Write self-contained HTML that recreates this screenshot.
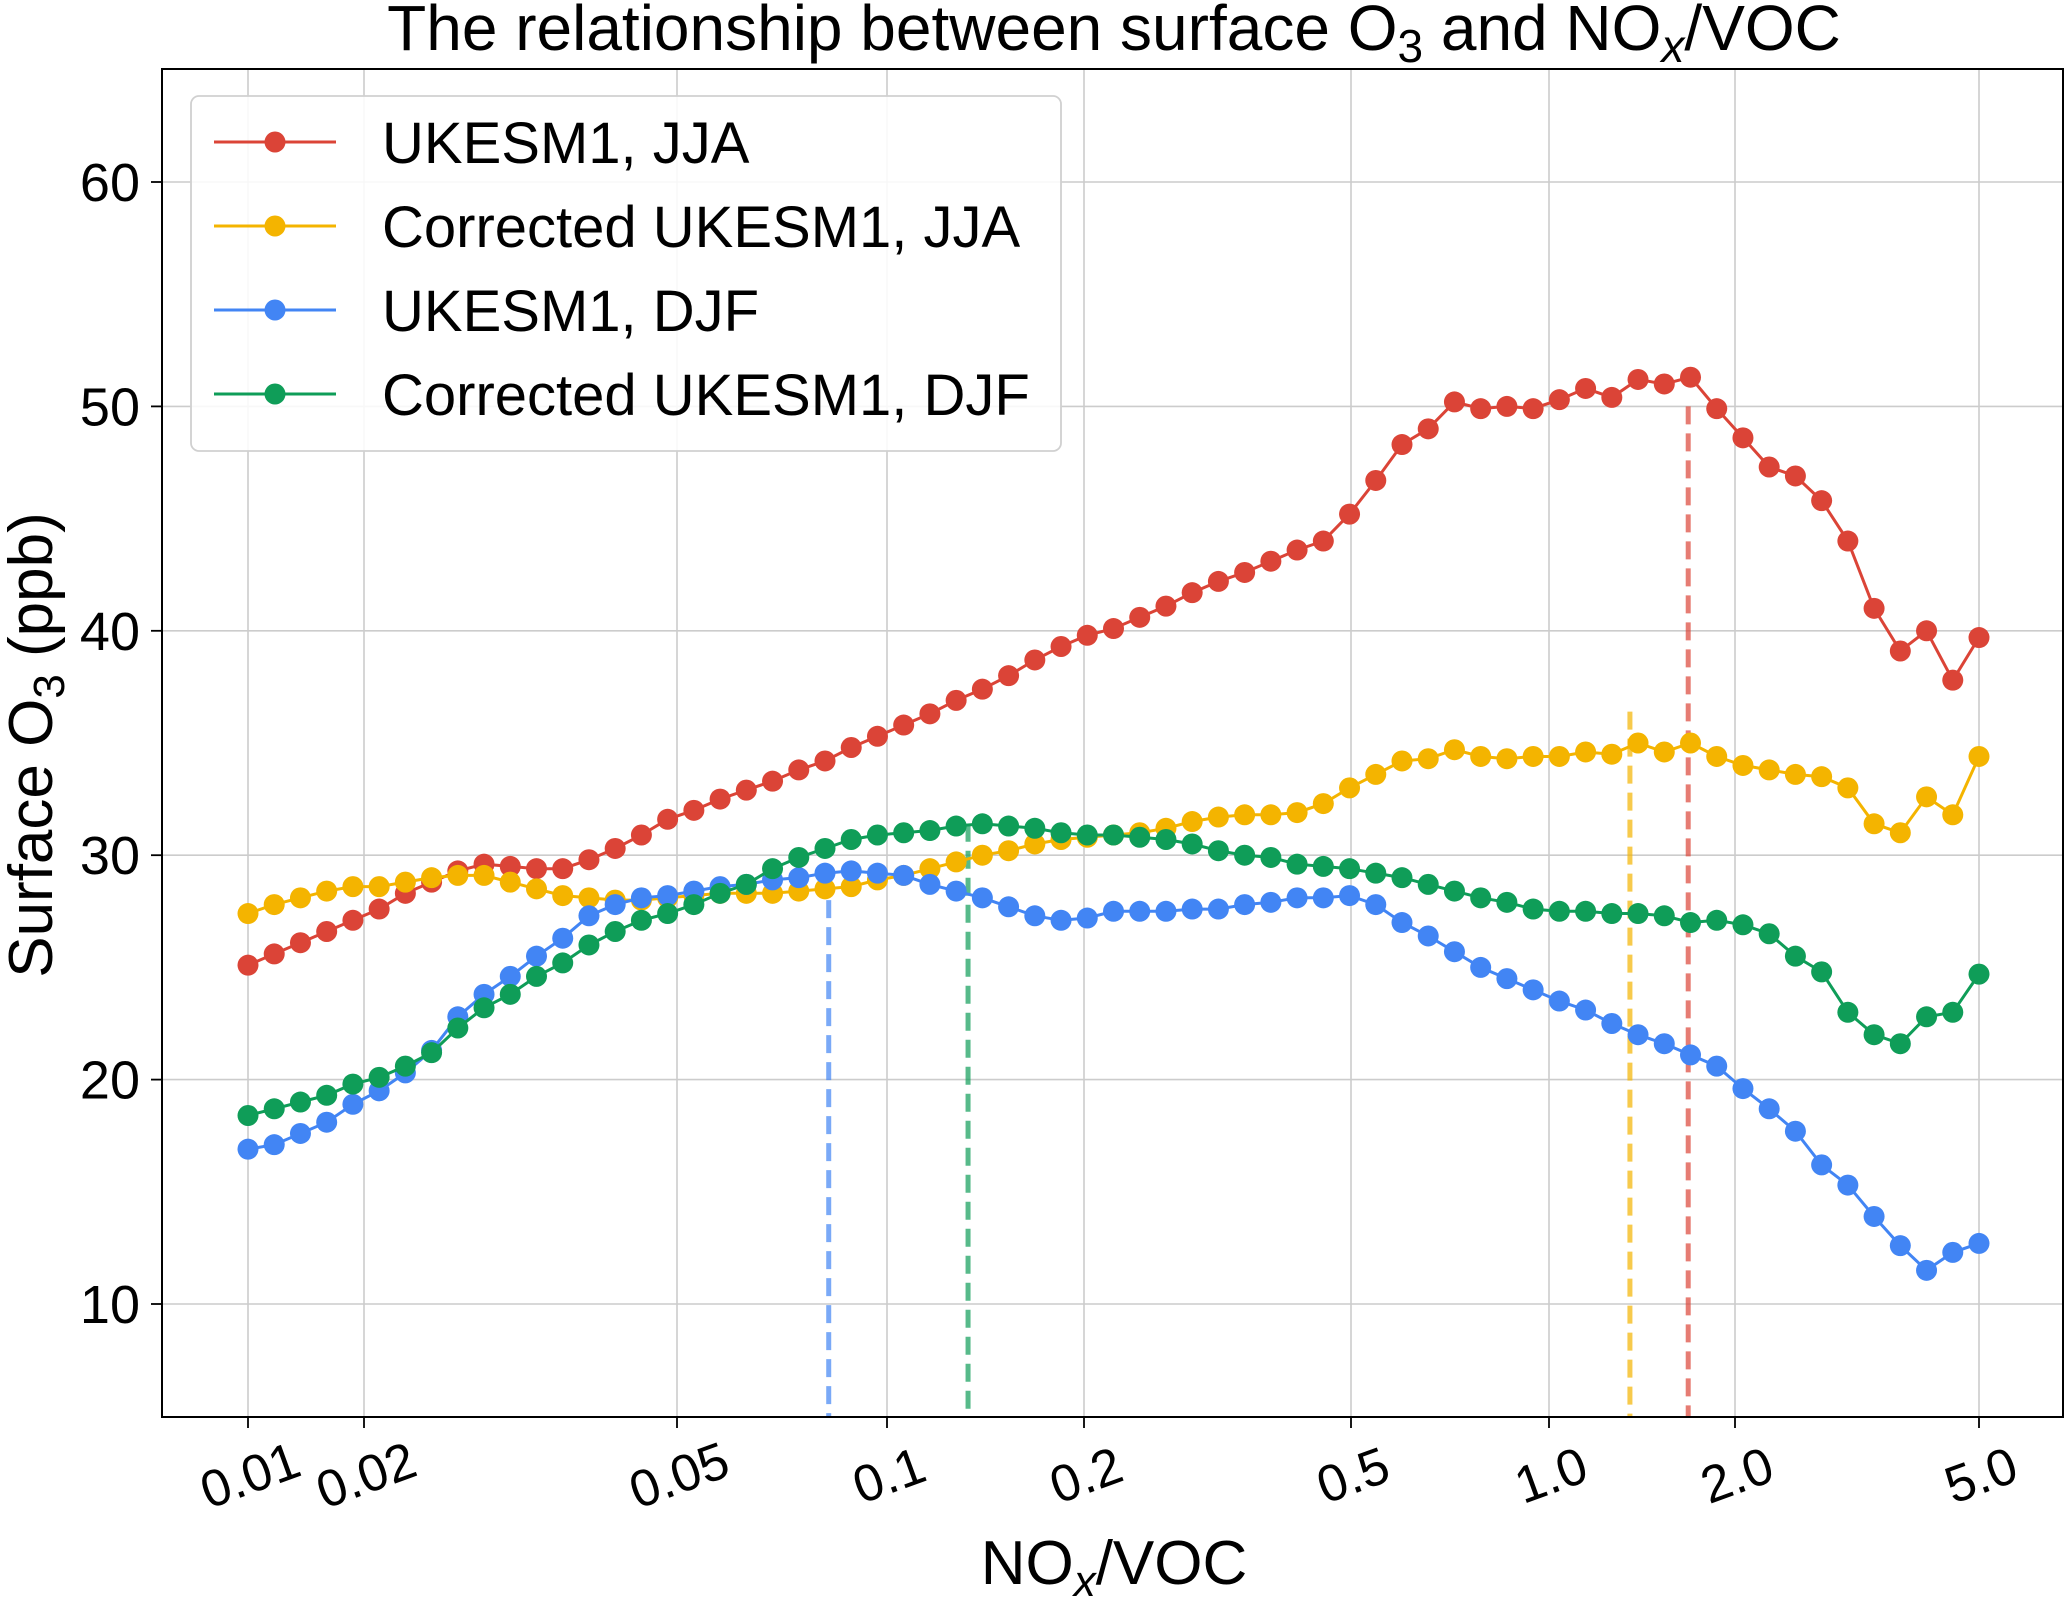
<!DOCTYPE html>
<html><head><meta charset="utf-8">
<style>
html,body{margin:0;padding:0;background:#fff;}
svg{display:block;font-family:"Liberation Sans",Arial,sans-serif;}
</style></head>
<body>
<svg id="chart" width="2067" height="1597" viewBox="0 0 2067 1597"></svg>
<script>
const tickValues = [0.01,0.02,0.05,0.1,0.2,0.5,1,2,5];
const tickLabels = ["0.01","0.02","0.05","0.1","0.2","0.5","1.0","2.0","5.0"];
const yTicks = [10,20,30,40,50,60];
const seriesNames = ["UKESM1, JJA","Corrected UKESM1, JJA","UKESM1, DJF","Corrected UKESM1, DJF"];
const ukJJA = [25.1,25.6,26.1,26.6,27.1,27.6,28.3,28.8,29.3,29.6,29.5,29.4,29.4,29.8,30.3,30.9,31.6,32.0,32.5,32.9,33.3,33.8,34.2,34.8,35.3,35.8,36.3,36.9,37.4,38.0,38.7,39.3,39.8,40.1,40.6,41.1,41.7,42.2,42.6,43.1,43.6,44.0,45.2,46.7,48.3,49.0,50.2,49.9,50.0,49.9,50.3,50.8,50.4,51.2,51.0,51.3,49.9,48.6,47.3,46.9,45.8,44.0,41.0,39.1,40.0,37.8,39.7];
const corrJJA = [27.4,27.8,28.1,28.4,28.6,28.6,28.8,29.0,29.1,29.1,28.8,28.5,28.2,28.1,28.0,28.0,28.1,28.2,28.3,28.3,28.3,28.4,28.5,28.6,28.9,29.1,29.4,29.7,30.0,30.2,30.5,30.7,30.8,30.9,31.0,31.2,31.5,31.7,31.8,31.8,31.9,32.3,33.0,33.6,34.2,34.3,34.7,34.4,34.3,34.4,34.4,34.6,34.5,35.0,34.6,35.0,34.4,34.0,33.8,33.6,33.5,33.0,31.4,31.0,32.6,31.8,34.4];
const ukDJF = [16.9,17.1,17.6,18.1,18.9,19.5,20.3,21.3,22.8,23.8,24.6,25.5,26.3,27.3,27.8,28.1,28.2,28.4,28.6,28.7,28.9,29.0,29.2,29.3,29.2,29.1,28.7,28.4,28.1,27.7,27.3,27.1,27.2,27.5,27.5,27.5,27.6,27.6,27.8,27.9,28.1,28.1,28.2,27.8,27.0,26.4,25.7,25.0,24.5,24.0,23.5,23.1,22.5,22.0,21.6,21.1,20.6,19.6,18.7,17.7,16.2,15.3,13.9,12.6,11.5,12.3,12.7];
const corrDJF = [18.4,18.7,19.0,19.3,19.8,20.1,20.6,21.2,22.3,23.2,23.8,24.6,25.2,26.0,26.6,27.1,27.4,27.8,28.3,28.7,29.4,29.9,30.3,30.7,30.9,31.0,31.1,31.3,31.4,31.3,31.2,31.0,30.9,30.9,30.8,30.7,30.5,30.2,30.0,29.9,29.6,29.5,29.4,29.2,29.0,28.7,28.4,28.1,27.9,27.6,27.5,27.5,27.4,27.4,27.3,27.0,27.1,26.9,26.5,25.5,24.8,23.0,22.0,21.6,22.8,23.0,24.7];
const peakX = [1.68,1.352,0.0825,0.133];
const peakTop = [50.0,36.4,29.2,31.4];
const colors = ["#db4437","#f4b400","#4285f4","#0f9d58"];

const NS="http://www.w3.org/2000/svg";
const svg=document.getElementById('chart');
const L=162,R=2063,T=69,B=1417;
// axis scale (non-uniform tick spacing as in the source figure)
const axisAnchorPx=[248,364,677,887,1084,1351,1549,1735,1979];
function xs(v){
  const lv=Math.log10(v);
  for(let i=0;i<tickValues.length-1;i++){
    const a=Math.log10(tickValues[i]),b=Math.log10(tickValues[i+1]);
    if(lv<=b||i===tickValues.length-2){return axisAnchorPx[i]+(lv-a)/(b-a)*(axisAnchorPx[i+1]-axisAnchorPx[i]);}
  }
}
function xIdx(k,n){return 248+k*(1979-248)/(n-1);}
function ys(v){return 182+(60-v)*22.44;}
function mk(tag,attrs,parent){const e=document.createElementNS(NS,tag);for(const k in attrs)e.setAttribute(k,attrs[k]);(parent||svg).appendChild(e);return e;}

const grid=mk('g',{});


tickValues.forEach(v=>{mk('line',{x1:xs(v),x2:xs(v),y1:T,y2:B,stroke:'#cccccc','stroke-width':1.6},grid);});
yTicks.forEach(v=>{mk('line',{x1:L,x2:R,y1:ys(v),y2:ys(v),stroke:'#cccccc','stroke-width':1.6},grid);});

tickValues.forEach((v,i)=>{
  mk('line',{x1:xs(v),x2:xs(v),y1:B,y2:B+11,stroke:'#000','stroke-width':1.8});
  const cx=xs(v)+2, cy=B+76;
  const t=mk('text',{x:cx,y:cy,'font-size':52,'text-anchor':'middle',transform:`rotate(-20 ${cx} ${cy-18})`});
  t.textContent=tickLabels[i];
  
  
});
yTicks.forEach(v=>{
  mk('line',{x1:L-11,x2:L,y1:ys(v),y2:ys(v),stroke:'#000','stroke-width':1.8});
  const t=mk('text',{x:L-22,y:ys(v)+19,'font-size':54,'text-anchor':'end'});
  t.textContent=String(v);
  
  
});

const dashNames=['peak-line-uk-jja','peak-line-corr-jja','peak-line-uk-djf','peak-line-corr-djf'];
peakX.forEach((v,i)=>{
  const d=mk('line',{x1:xs(v),x2:xs(v),y1:ys(peakTop[i]),y2:B,stroke:colors[i],'stroke-opacity':0.7,'stroke-width':5,'stroke-dasharray':'18 9'});
  
  
});

const allSeries=[ukJJA,corrJJA,ukDJF,corrDJF];
const serNames=['series-uk-jja','series-corr-jja','series-uk-djf','series-corr-djf'];
allSeries.forEach((arr,i)=>{
  const g=mk('g',{});
  
  
  const n=arr.length;
  const pts=arr.map((v,k)=>xIdx(k,n).toFixed(1)+','+ys(v).toFixed(1)).join(' ');
  mk('polyline',{points:pts,fill:'none',stroke:colors[i],'stroke-width':3},g);
  arr.forEach((v,k)=>{
    const c=mk('circle',{cx:xIdx(k,n),cy:ys(v),r:10.5,fill:colors[i]},g);
    
    
  });
});

const frame=mk('rect',{x:L,y:T,width:R-L,height:B-T,fill:'none',stroke:'#000','stroke-width':2});



const lg=mk('g',{});


mk('rect',{x:191,y:96,width:870,height:355,rx:8,fill:'#fff','fill-opacity':0.85,stroke:'#d0d0d0','stroke-width':1.8},lg);
const legY=[142,226,310,394];
seriesNames.forEach((n,i)=>{
  const e=mk('g',{},lg);
  
  
  mk('line',{x1:214,x2:336,y1:legY[i],y2:legY[i],stroke:colors[i],'stroke-width':3},e);
  mk('circle',{cx:275,cy:legY[i],r:10.5,fill:colors[i]},e);
  const t=mk('text',{x:382,y:legY[i]+21,'font-size':58},e);
  t.textContent=n;
});
</script>
<div style="position:absolute;left:0;top:0;width:2067px;height:1597px;pointer-events:none">
<svg width="2067" height="1597" style="position:absolute;left:0;top:0">
<text x="1114" y="50" font-size="64" text-anchor="middle" font-family="Liberation Sans, sans-serif">The relationship between surface O<tspan font-size="46" dy="12">3</tspan><tspan dy="-12"> and NO</tspan><tspan font-size="46" dy="12" font-style="italic">x</tspan><tspan dy="-12">/VOC</tspan></text>
<text x="1114" y="1584" font-size="62" text-anchor="middle" font-family="Liberation Sans, sans-serif">NO<tspan font-size="44" dy="12" font-style="italic">x</tspan><tspan dy="-12">/VOC</tspan></text>
<text x="52" y="745" font-size="62" text-anchor="middle" transform="rotate(-90 52 745)" font-family="Liberation Sans, sans-serif">Surface O<tspan font-size="44" dy="12">3</tspan><tspan dy="-12"> (ppb)</tspan></text>
</svg>
</div>
</body></html>
